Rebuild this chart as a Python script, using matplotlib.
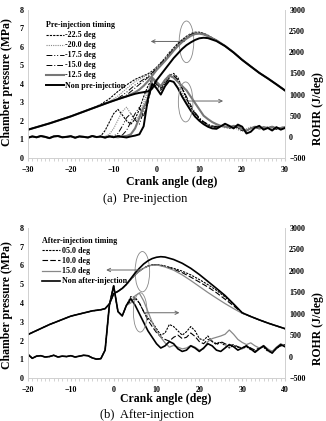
import numpy as np
import matplotlib
matplotlib.use('Agg')
import matplotlib.pyplot as plt
from matplotlib.patches import Ellipse

plt.rcParams['font.family'] = ['Liberation Serif', 'DejaVu Serif']

# ---------------- (a) pre-injection ----------------
x_p_a = [-30, -25, -20, -15, -13, -11, -9, -7, -5, -4, -3, -2, -1, 0, 1, 2, 3, 4, 5, 6,
         7, 8, 9, 10, 11, 12, 14, 16, 18, 20, 22, 24, 26, 28, 30]
p_a = {
    '-22.5 deg': [1.53, 1.87, 2.25, 2.68, 2.9, 3.2, 3.6, 3.95, 4.25, 4.35, 4.45,
                  4.55, 4.7, 4.9, 5.15, 5.4, 5.7, 5.95, 6.2, 6.4, 6.58, 6.72, 6.8, 6.8, 6.74, 6.64,
                  6.36, 6.06, 5.71, 5.31, 4.95, 4.6, 4.3, 3.98, 3.65],
    '-20.0 deg': [1.53, 1.87, 2.25, 2.68, 2.85, 3.05, 3.35, 3.75, 4.12, 4.25, 4.38,
                  4.5, 4.65, 4.88, 5.12, 5.38, 5.65, 5.92, 6.18, 6.38, 6.56, 6.7, 6.78, 6.78, 6.72, 6.62,
                  6.36, 6.06, 5.71, 5.31, 4.95, 4.6, 4.3, 3.98, 3.65],
    '-17.5 deg': [1.53, 1.87, 2.25, 2.68, 2.85, 3.02, 3.22, 3.55, 3.95, 4.1, 4.25,
                  4.4, 4.6, 4.85, 5.1, 5.35, 5.62, 5.9, 6.15, 6.35, 6.52, 6.67, 6.75, 6.76, 6.7, 6.6,
                  6.36, 6.06, 5.71, 5.31, 4.95, 4.6, 4.3, 3.98, 3.65],
    '-15.0 deg': [1.53, 1.87, 2.25, 2.68, 2.85, 3.02, 3.18, 3.4, 3.78, 3.98, 4.15,
                  4.35, 4.55, 4.8, 5.05, 5.3, 5.58, 5.85, 6.1, 6.32, 6.5, 6.65, 6.73, 6.74, 6.68, 6.58,
                  6.36, 6.06, 5.71, 5.31, 4.95, 4.6, 4.3, 3.98, 3.65],
    '-12.5 deg': [1.53, 1.87, 2.25, 2.68, 2.85, 3.02, 3.18, 3.33, 3.55, 3.7, 3.9,
                  4.15, 4.45, 4.75, 5.0, 5.25, 5.52, 5.8, 6.05, 6.27, 6.45, 6.6, 6.7, 6.72, 6.68, 6.58,
                  6.36, 6.06, 5.71, 5.31, 4.95, 4.6, 4.3, 3.98, 3.65],
    'Non pre-injection': [1.53, 1.87, 2.25, 2.68, 2.85, 3.02, 3.18, 3.33, 3.47, 3.52, 3.56,
                          3.6, 3.75, 4.2, 4.5, 4.8, 5.1, 5.4, 5.65, 5.9, 6.1, 6.25, 6.38, 6.47, 6.5, 6.48,
                          6.32, 6.05, 5.7, 5.3, 4.95, 4.6, 4.3, 3.98, 3.65],
}

x_r_a = list(range(-30, 31))
rohr_base_a = [-20, 10, -10, 20, 0, -30, 10, 20, -10, 0, 15, -20, 10, 0, -15, 20, -5]  # -30..-14
r_a = {
    '-22.5 deg': [20, 150, 350, 550, 650, 520, 380, 300, 420, 650,
                  950, 1200, 1380, 1250, 1150, 1300, 1450, 1500, 1400, 1150,
                  900, 700, 550, 420, 340, 280, 240, 220, 260, 240,
                  200, 240, 220, 160, 140, 200, 240, 190, 230, 200,
                  250, 180, 220, 230],
    '-20.0 deg': [0, 10, 60, 200, 400, 600, 700, 550, 380, 500,
                  800, 1100, 1350, 1250, 1200, 1350, 1480, 1450, 1300, 1050,
                  800, 620, 480, 380, 300, 250, 230, 270, 260, 210,
                  230, 250, 170, 130, 190, 230, 200, 220, 190, 240,
                  200, 210, 220, 200],
    '-17.5 deg': [10, -10, 0, 20, 80, 250, 450, 550, 400, 300,
                  600, 1000, 1300, 1250, 1150, 1250, 1400, 1450, 1350, 1150,
                  900, 700, 550, 430, 350, 290, 250, 230, 260, 250,
                  220, 240, 200, 150, 150, 210, 240, 180, 220, 210,
                  230, 190, 200, 230],
    '-15.0 deg': [-10, 10, 0, -10, 20, 40, 150, 350, 550, 700,
                  500, 800, 1250, 1200, 1100, 1250, 1400, 1450, 1350, 1150,
                  950, 750, 580, 450, 360, 300, 260, 240, 270, 250,
                  210, 250, 220, 150, 140, 200, 230, 190, 220, 200,
                  220, 180, 210, 220],
    '-12.5 deg': [0, -10, 10, 0, -10, 10, 20, 60, 200, 450,
                  700, 900, 1400, 1300, 1200, 1350, 1450, 1400, 1300, 1200,
                  1100, 950, 800, 650, 500, 420, 350, 300, 260, 240,
                  230, 260, 250, 180, 150, 200, 240, 200, 230, 210,
                  240, 200, 210, 230],
    'Non pre-injection': [10, -20, 15, -10, 20, 0, -15, 10, 30, 60,
                          250, 900, 1250, 1150, 1000, 1200, 1330, 1300, 1150, 950,
                          780, 620, 480, 380, 300, 240, 200, 190, 250, 310,
                          260, 200, 290, 240, 80, 120, 220, 260, 170, 210,
                          150, 230, 170, 210],
}

# ---------------- (b) after-injection ----------------
x_p_b = [-20, -15, -10, -5, -3, -2, -1, 0, 1, 2, 3, 4, 5, 6, 7, 8, 9, 10, 11, 12,
         14, 16, 18, 20, 22, 24, 26, 28, 30, 32, 34, 36, 38, 40]
p_b = {
    '05.0 deg': [2.32, 2.85, 3.3, 3.58, 3.64, 3.7, 3.95, 4.5, 4.62, 4.78, 5.0, 5.25,
                 5.5, 5.7, 5.86, 5.97, 6.04, 6.05, 6.02, 5.97,
                 5.85, 5.7, 5.5, 5.25, 4.98, 4.68, 4.32, 3.92, 3.48, 3.28, 3.1, 2.93, 2.78, 2.63],
    '10.0 deg': [2.32, 2.85, 3.3, 3.58, 3.64, 3.7, 3.95, 4.5, 4.62, 4.78, 5.0, 5.25,
                 5.5, 5.7, 5.86, 5.97, 6.03, 6.04, 6.0, 5.95,
                 5.8, 5.62, 5.38, 5.12, 4.85, 4.55, 4.2, 3.85, 3.46, 3.28, 3.1, 2.93, 2.78, 2.63],
    '15.0 deg': [2.32, 2.85, 3.3, 3.58, 3.64, 3.7, 3.95, 4.5, 4.62, 4.78, 5.0, 5.25,
                 5.5, 5.7, 5.85, 5.96, 6.02, 6.03, 5.98, 5.92,
                 5.75, 5.5, 5.2, 4.88, 4.56, 4.26, 3.97, 3.7, 3.45, 3.28, 3.1, 2.93, 2.78, 2.63],
    'Non after-injection': [2.32, 2.85, 3.3, 3.58, 3.64, 3.7, 3.95, 4.5, 4.62, 4.78, 5.0, 5.3,
                            5.6, 5.85, 6.08, 6.25, 6.37, 6.44, 6.47, 6.45,
                            6.32, 6.12, 5.85, 5.52, 5.15, 4.78, 4.4, 3.95, 3.48, 3.28, 3.1, 2.93, 2.78, 2.63],
}

x_r_b = list(range(-20, 41))
rohr_base_b = [50, -40, 10, 20, -10, 0, 30, -10, 10, 0, 20, -10, 10, 30, 20, -30,
               -60, -50, 150, 1200, 1650, 1050, 950, 1200]  # -20..3
r_b = {
    '05.0 deg': [1400, 1380, 1250, 1050, 900, 800, 650, 500, 550, 750,
                 700, 600, 500, 580, 700, 600, 420, 380, 480, 350,
                 280, 330, 260, 200, 260, 220, 180, 230, 160, 120,
                 200, 220, 120, 100, 180, 260, 280],
    '10.0 deg': [1300, 1350, 1250, 1050, 850, 700, 560, 460, 400, 360,
                 450, 500, 420, 450, 550, 470, 350, 300, 400, 360,
                 300, 350, 300, 250, 280, 230, 200, 250, 200, 150,
                 200, 230, 150, 120, 200, 250, 260],
    '15.0 deg': [1250, 1420, 1480, 1300, 1050, 800, 600, 450, 320, 220,
                 260, 220, 180, 200, 260, 220, 150, 180, 350, 420,
                 450, 480, 520, 620, 520, 400, 330, 280, 320, 250,
                 200, 260, 180, 120, 220, 300, 250],
    'Non after-injection': [1350, 1200, 1000, 800, 600, 450, 300, 200, 250, 350,
                            300, 180, 120, 150, 250, 200, 120, 200, 300, 250,
                            150, 120, 200, 280, 230, 150, 200, 250, 180, 100,
                            180, 250, 150, 80, 200, 280, 230],
}

styles_a = {
    '-22.5 deg': dict(color='black', lw=0.8, dashes=(2, 1)),
    '-20.0 deg': dict(color='#888888', lw=0.8, dashes=(1, 1)),
    '-17.5 deg': dict(color='black', lw=0.7, dashes=(6, 2, 1, 2, 1, 2)),
    '-15.0 deg': dict(color='black', lw=0.7, dashes=(6, 2, 1, 2)),
    '-12.5 deg': dict(color='#777777', lw=1.5),
    'Non pre-injection': dict(color='black', lw=1.4),
}
styles_b = {
    '05.0 deg': dict(color='black', lw=0.8, dashes=(2, 1)),
    '10.0 deg': dict(color='black', lw=0.8, dashes=(5, 2)),
    '15.0 deg': dict(color='#888888', lw=0.9),
    'Non after-injection': dict(color='black', lw=1.2),
}

W, H = 326, 421
fig = plt.figure(figsize=(W / 100, H / 100), dpi=100)
bold = dict(fontweight='bold')


def panel(rect, xlim, xp, pres, xr, base, rohr, styles, title, leg_anchor,
          ells, arrows):
    ax = fig.add_axes(rect)
    ax2 = ax.twinx()
    ax.set_zorder(ax2.get_zorder() + 1)
    ax.patch.set_visible(False)
    for name, ys in rohr.items():
        full = base + ys
        ax2.plot(xr, full, **styles[name])
    for name, ys in pres.items():
        ax.plot(xp, ys, label=name, **styles[name])
    ax.set_xlim(*xlim)
    ax.set_ylim(0, 8)
    ax2.set_ylim(-500, 3000)
    ax.set_xticks(np.arange(xlim[0], xlim[1] + 1, 10))
    ax.set_xticks(np.arange(xlim[0], xlim[1] + 1, 1), minor=True)
    ax.set_yticks(range(0, 9))
    ax2.set_yticks(range(-500, 3001, 500))
    for a in (ax, ax2):
        for s in a.spines.values():
            s.set_color('#d0d0d0')
            s.set_linewidth(0.6)
        a.spines['top'].set_visible(False)
        a.tick_params(labelsize=5.8, length=0, pad=3, colors='#d0d0d0',
                      labelcolor='black')
    ax.tick_params(axis='x', which='both', length=2, color='#cccccc', pad=4)
    for lab in ax.get_xticklabels() + ax.get_yticklabels() + ax2.get_yticklabels():
        lab.set_fontweight('bold')
    for (cx, cy, w, h) in ells:
        ax.add_patch(Ellipse((cx, cy), w, h, fill=False, ec='#888888', lw=0.6))
    for (x0, x1, y) in arrows:
        ax.annotate('', xy=(x1, y), xytext=(x0, y),
                    arrowprops=dict(arrowstyle='->', color='#666666', lw=0.7,
                                    mutation_scale=6))
    ax.legend(loc='upper left', bbox_to_anchor=leg_anchor, frameon=False,
              title=title, prop=dict(size=5.8, weight='bold'),
              title_fontproperties=dict(size=5.8, weight='bold'),
              handlelength=2.2, handletextpad=0.2, labelspacing=0.25,
              borderpad=0, alignment='left')
    return ax, ax2


panel([28 / W, 1 - 158 / H, 257 / W, 148 / H], (-30, 30), x_p_a, p_a, x_r_a,
      rohr_base_a, r_a, styles_a, 'Pre-injection timing', (0.055, 0.95),
      [(7.0, 6.28, 3.4, 2.25), (6.8, 3.03, 3.4, 2.16)],
      [(7.2, -2.0, 6.3), (6.8, 16.2, 3.08)])

panel([28 / W, 1 - 378 / H, 257 / W, 150 / H], (-20, 40), x_p_b, p_b, x_r_b,
      rohr_base_b, r_b, styles_b, 'After-injection timing', (0.04, 0.965),
      [(6.7, 5.67, 3.4, 2.15), (6.2, 3.5, 3.2, 2.1)],
      [(6.7, -2.4, 5.76), (6.4, 16.0, 3.48)])

# axis titles and captions
fig.text(0.02, 0.805, 'Chamber pressure (MPa)', rotation=90, ha='center', va='center',
         fontsize=8.5, **bold)
fig.text(0.975, 0.743, 'ROHR (J/deg)', rotation=90, ha='center', va='center',
         fontsize=8.5, **bold)
fig.text(0.527, 0.568, 'Crank angle (deg)', ha='center', va='center', fontsize=8.5, **bold)
fig.text(0.445, 0.527, '(a)  Pre-injection', ha='center', va='center', fontsize=9)

fig.text(0.02, 0.276, 'Chamber pressure (MPa)', rotation=90, ha='center', va='center',
         fontsize=8.5, **bold)
fig.text(0.975, 0.22, 'ROHR (J/deg)', rotation=90, ha='center', va='center',
         fontsize=8.5, **bold)
fig.text(0.509, 0.052, 'Crank angle (deg)', ha='center', va='center', fontsize=8.5, **bold)
fig.text(0.452, 0.014, '(b)  After-injection', ha='center', va='center', fontsize=9)

fig.savefig('out.png', dpi=100)
